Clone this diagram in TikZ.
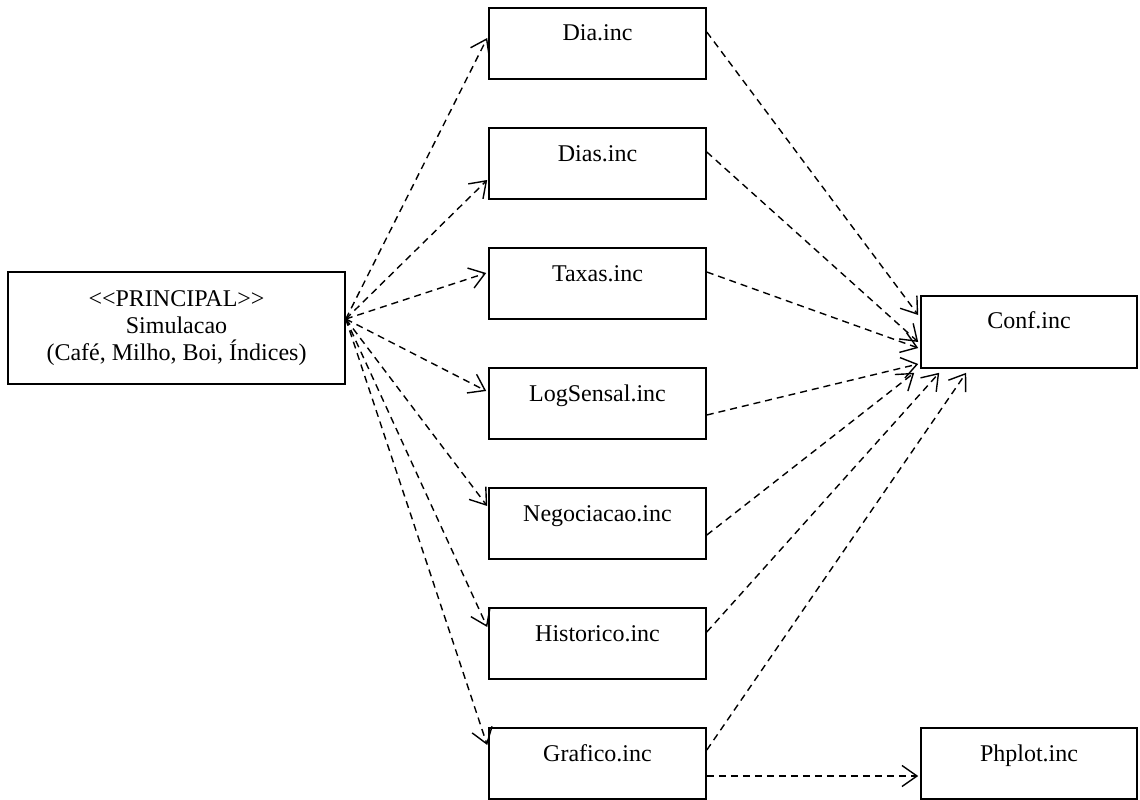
\documentclass[tikz,border=0pt]{standalone}
\usepackage{fontspec}
\setmainfont{Liberation Serif}
\usetikzlibrary{arrows.meta,calc}
\begin{document}
\begin{tikzpicture}[x=1pt,y=-1pt,
 box/.style={draw,line width=1.6pt,minimum width=217pt,minimum height=71pt,inner sep=0pt,text height=33pt,text depth=38pt,font=\fontsize{24}{27}\selectfont},
 dep/.style={line width=1.4pt,dash pattern=on 7pt off 5pt,-{Straight Barb[length=15pt,width=21pt,line width=1.4pt]}},
 txt/.style={anchor=base,inner sep=0pt,font=\fontsize{24}{27}\selectfont}]
\useasboundingbox (0,0) rectangle (1140,800);
% principal
\node[draw,line width=1.6pt,minimum width=337pt,minimum height=112pt,inner sep=0pt] (princ) at (176.5,328) {};
\node[txt] (pt1) at (176.5,306) {<{}<PRINCIPAL>{}>};
\node[txt] (pt2) at (176.5,333) {Simulacao};
\node[txt] (pt3) at (176.5,360) {(Café, Milho, Boi, Índices)};
\coordinate (src) at ($(princ.east)+(0,-9)$);
% includes
\node[box] (dia) at (597.5,43.5) {Dia.inc};
\node[box] (dias) at (597.5,163.5) {Dias.inc};
\node[box] (taxas) at (597.5,283.5) {Taxas.inc};
\node[box] (log) at (597.5,403.5) {LogSensal.inc};
\node[box] (neg) at (597.5,523.5) {Negociacao.inc};
\node[box] (hist) at (597.5,643.5) {Historico.inc};
\node[box] (graf) at (597.5,763.5) {Grafico.inc};
\node[box,minimum width=216pt,minimum height=72pt,text height=32pt,text depth=40pt] (conf) at (1029,332) {Conf.inc};
\node[box,minimum width=216pt] (php) at (1029,763.5) {Phplot.inc};
% from principal
\draw[dep] (src) -- ($(dia.west)+(-1,-5.5)$);
\draw[dep] (src) -- ($(dias.west)+(-1,16.5)$);
\draw[dep] (src) -- ($(taxas.west)+(-2,-10.5)$);
\draw[dep] (src) -- ($(log.west)+(-2,-12.5)$);
\draw[dep] (src) -- ($(neg.west)+(-1,-17.5)$);
\draw[dep] (src) -- ($(hist.west)+(-1,-16.5)$);
\draw[dep] (src) -- ($(graf.west)+(-1,-18.5)$);
% to conf
\draw[dep] ($(dia.east)+(0,-11.5)$) -- ($(conf.west)+(-2,-17)$);
\draw[dep] ($(dias.east)+(0,-11.5)$) -- ($(conf.west)+(-2,10)$);
\draw[dep] ($(taxas.east)+(0,-11.5)$) -- ($(conf.west)+(-2,16)$);
\draw[dep] ($(log.east)+(0,11.5)$) -- ($(conf.west)+(-2,32)$);
\draw[dep] ($(neg.east)+(0,11.5)$) -- ($(conf.south west)+(-6,4)$);
\draw[dep] ($(hist.east)+(0,-11.5)$) -- ($(conf.south west)+(19,4)$);
\draw[dep] ($(graf.east)+(0,-13.5)$) -- ($(conf.south west)+(46,4)$);
% to phplot
\draw[dep] ($(graf.east)+(0,12.5)$) -- ($(php.west)+(-2,12.5)$);
\end{tikzpicture}
\end{document}
